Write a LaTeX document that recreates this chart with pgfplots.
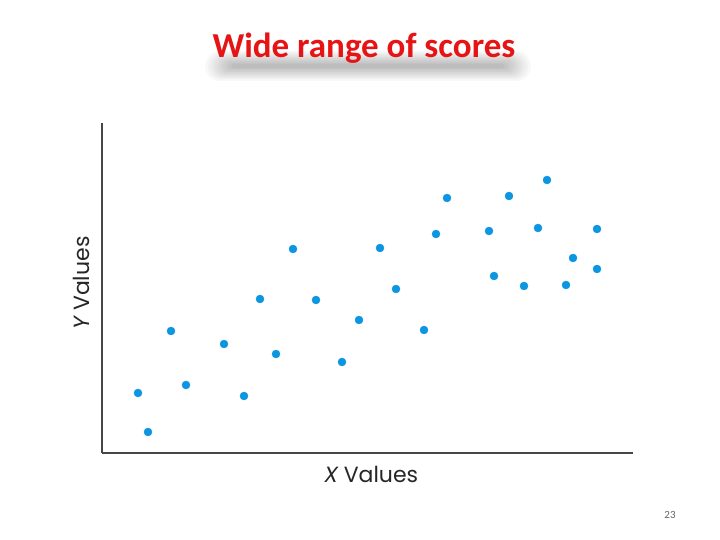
\documentclass[border=0pt]{standalone}
\usepackage{fontspec}
\usepackage{pgfplots}
\pgfplotsset{compat=1.18}
\newfontfamily\titlefont{Carlito}
\newfontfamily\labelfont{Poppins}
\definecolor{dotblue}{RGB}{12,150,225}
\definecolor{titlered}{RGB}{230,20,20}
\definecolor{axisgray}{RGB}{70,70,70}
\begin{document}
\begin{tikzpicture}[x=1pt,y=1pt]
\fill[white] (0,0) rectangle (720,540);
\useasboundingbox (0,0) rectangle (720,540);
% title shadow (soft blur below the title)
\foreach \w/\h in {326/30,320/27,314/24,308/21,302/18,296/15,290/12,284/9,278/6,272/4}{
  \fill[black,opacity=0.028,rounded corners=\h/2*1pt] (368-\w/2,474-\h/2) rectangle (368+\w/2,474+\h/2);
}
\node[anchor=base,text=titlered,font=\titlefont\bfseries\fontsize{35}{42}\selectfont] at (364,482) {Wide range of scores};
\begin{axis}[
  at={(102pt,87pt)}, anchor=south west,
  width=531pt, height=330pt, scale only axis,
  xmin=0, xmax=531, ymin=0, ymax=330,
  axis x line=bottom, axis y line=left,
  axis line style={-, draw=axisgray, line width=1.8pt},
  xtick=\empty, ytick=\empty,
  clip=false,
  xlabel={\labelfont\fontsize{22}{26}\selectfont\itshape X\upshape\ Values},
  ylabel={\labelfont\fontsize{22}{26}\selectfont\itshape Y\upshape\ Values},
  x label style={at={(axis description cs:0.507,-0.088)}, anchor=base, text=black!85},
  y label style={at={(axis description cs:-0.024,0.515)}, anchor=base, rotate=0, text=black!85},
]
\addplot[only marks, mark=*, mark size=4pt, color=dotblue, mark options={draw=none, fill=dotblue}] coordinates {
(36,60) (46,21) (69,122) (84,68) (122,109) (142,57) (158,154) (174,99)
(191,204) (214,153) (240,91) (257,133) (278,205) (294,164) (322,123)
(334,219) (345,255) (387,222) (392,177) (407,257) (422,167) (436,225)
(445,273) (464,168) (471,195) (495,224) (495,184)
};
\end{axis}
\node[anchor=base,text=black!60,font=\titlefont\fontsize{11}{13}\selectfont] at (670,21) {23};
\end{tikzpicture}
\end{document}
